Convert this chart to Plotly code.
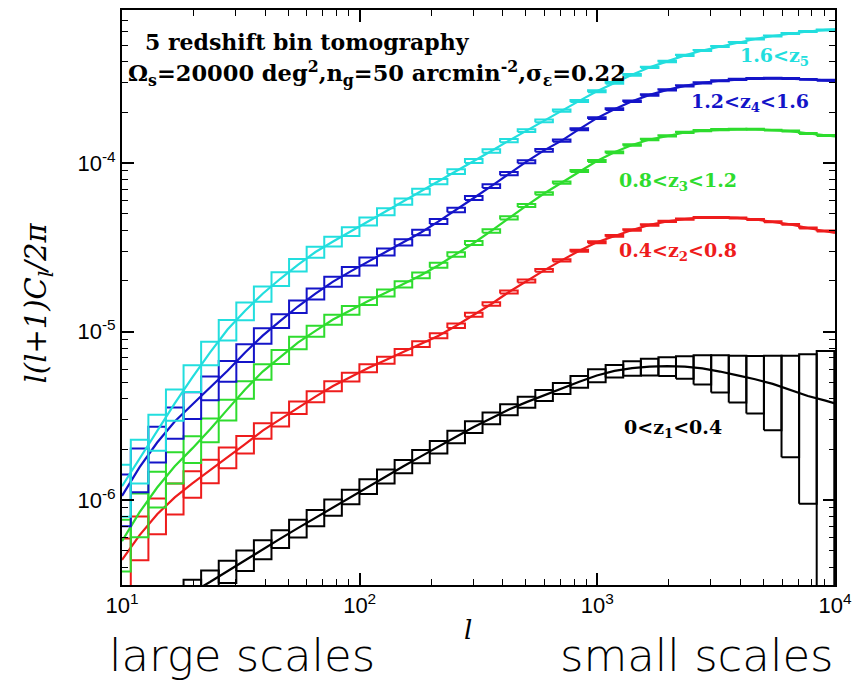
import plotly.graph_objects as go

# bin centres (multipole l)
ell = [10, 11.86, 14.06, 16.67, 19.77, 23.44, 27.80, 32.96, 39.08, 46.35, 54.95,
       65.16, 77.27, 91.62, 108.6, 128.8, 152.8, 181.1, 214.8, 254.7, 302.0,
       358.1, 424.6, 503.5, 597.0, 707.9, 839.5, 995.4, 1180, 1400, 1660,
       1968, 2333, 2767, 3281, 3890, 4613, 5470, 6486, 7691, 9120]
ell_line = ell + [10000]

# l(l+1)C_l/2pi for each tomographic bin (41 bins + end point at l=1e4)
z5_cyan = [1.21e-6, 1.77e-6, 2.59e-6, 3.75e-6, 5.35e-6, 7.52e-6, 1.03e-5, 1.33e-5, 1.68e-5, 2.06e-5,
           2.49e-5, 2.97e-5, 3.43e-5, 3.93e-5, 4.51e-5, 5.16e-5, 5.92e-5, 6.78e-5, 7.77e-5, 8.91e-5,
           1.03e-4, 1.18e-4, 1.36e-4, 1.56e-4, 1.78e-4, 2.05e-4, 2.34e-4, 2.67e-4, 2.99e-4, 3.34e-4,
           3.70e-4, 4.01e-4, 4.36e-4, 4.66e-4, 4.92e-4, 5.20e-4, 5.45e-4, 5.68e-4, 5.88e-4, 6.04e-4,
           6.17e-4, 6.21e-4]
z4_blue = [1.06e-6, 1.57e-6, 2.20e-6, 2.93e-6, 3.70e-6, 4.67e-6, 5.87e-6, 7.52e-6, 9.47e-6, 1.16e-5,
           1.41e-5, 1.68e-5, 1.98e-5, 2.28e-5, 2.61e-5, 2.97e-5, 3.39e-5, 3.88e-5, 4.51e-5, 5.27e-5,
           6.21e-5, 7.31e-5, 8.67e-5, 1.02e-4, 1.19e-4, 1.36e-4, 1.59e-4, 1.85e-4, 2.09e-4, 2.33e-4,
           2.54e-4, 2.72e-4, 2.87e-4, 2.99e-4, 3.08e-4, 3.14e-4, 3.18e-4, 3.19e-4, 3.18e-4, 3.14e-4,
           3.10e-4, 3.06e-4]
z3_green = [5.72e-7, 8.49e-7, 1.19e-6, 1.59e-6, 2.03e-6, 2.63e-6, 3.46e-6, 4.54e-6, 5.80e-6, 7.11e-6,
            8.61e-6, 1.01e-5, 1.18e-5, 1.34e-5, 1.52e-5, 1.70e-5, 1.91e-5, 2.16e-5, 2.48e-5, 2.87e-5,
            3.36e-5, 3.96e-5, 4.73e-5, 5.60e-5, 6.60e-5, 7.67e-5, 8.97e-5, 1.03e-4, 1.16e-4, 1.28e-4,
            1.38e-4, 1.45e-4, 1.52e-4, 1.56e-4, 1.58e-4, 1.59e-4, 1.59e-4, 1.57e-4, 1.55e-4, 1.50e-4,
            1.46e-4, 1.44e-4]
z2_red = [4.42e-7, 6.21e-7, 8.26e-7, 1.04e-6, 1.26e-6, 1.50e-6, 1.80e-6, 2.15e-6, 2.59e-6, 3.02e-6,
          3.55e-6, 4.12e-6, 4.76e-6, 5.38e-6, 6.08e-6, 6.78e-6, 7.56e-6, 8.43e-6, 9.47e-6, 1.085e-5,
          1.26e-5, 1.46e-5, 1.72e-5, 2.00e-5, 2.31e-5, 2.65e-5, 3.02e-5, 3.39e-5, 3.70e-5, 4.01e-5,
          4.30e-5, 4.51e-5, 4.66e-5, 4.76e-5, 4.76e-5, 4.73e-5, 4.63e-5, 4.49e-5, 4.33e-5, 4.12e-5,
          3.96e-5, 3.85e-5]
z1_black = [1.51e-7, 1.75e-7, 2.06e-7, 2.43e-7, 2.84e-7, 3.27e-7, 3.80e-7, 4.42e-7, 5.13e-7, 5.92e-7,
            6.83e-7, 7.87e-7, 9.09e-7, 1.05e-6, 1.21e-6, 1.39e-6, 1.59e-6, 1.82e-6, 2.07e-6, 2.38e-6,
            2.72e-6, 3.07e-6, 3.45e-6, 3.82e-6, 4.20e-6, 4.62e-6, 5.05e-6, 5.50e-6, 5.85e-6, 6.08e-6,
            6.20e-6, 6.25e-6, 6.20e-6, 6.05e-6, 5.80e-6, 5.50e-6, 5.22e-6, 4.90e-6, 4.50e-6, 4.15e-6,
            3.90e-6, 3.75e-6]

# fractional 1-sigma errors per bin (half box height / value)
relerr_colored = [0.34, 0.29, 0.24, 0.21, 0.18, 0.16, 0.14, 0.12, 0.105, 0.095,
                  0.085, 0.075, 0.068, 0.06, 0.054, 0.048, 0.043, 0.039, 0.035, 0.031,
                  0.028, 0.025, 0.022, 0.02, 0.018, 0.016, 0.014, 0.013, 0.012, 0.011,
                  0.010, 0.009, 0.0085, 0.008, 0.0075, 0.007, 0.0068, 0.0066, 0.0065, 0.0064,
                  0.0064]
relerr_black = [0.34, 0.29, 0.25, 0.21, 0.19, 0.17, 0.15, 0.14, 0.13, 0.12,
                0.12, 0.11, 0.11, 0.10, 0.10, 0.095, 0.09, 0.09, 0.085, 0.085,
                0.08, 0.08, 0.075, 0.075, 0.075, 0.075, 0.08, 0.09, 0.085, 0.098,
                0.113, 0.128, 0.153, 0.198, 0.25, 0.31, 0.374, 0.47, 0.60, 0.77,
                0.97]

labels = ["1.6&lt;z<sub>5</sub>", "1.2&lt;z<sub>4</sub>&lt;1.6", "0.8&lt;z<sub>3</sub>&lt;1.2",
          "0.4&lt;z<sub>2</sub>&lt;0.8", "0&lt;z<sub>1</sub>&lt;0.4"]
x_ticks = [10, 100, 1000, 10000]
x_ticktext = ["10<sup>1</sup>", "10<sup>2</sup>", "10<sup>3</sup>", "10<sup>4</sup>"]
y_ticks = [1e-6, 1e-5, 1e-4]
y_ticktext = ["10<sup>-6</sup>", "10<sup>-5</sup>", "10<sup>-4</sup>"]

HW = 0.037  # half bin width in dex

series = [
    (z1_black, relerr_black, "black"),
    (z2_red, relerr_colored, "#ee1c1c"),
    (z3_green, relerr_colored, "#2edc2e"),
    (z4_blue, relerr_colored, "#1414c8"),
    (z5_cyan, relerr_colored, "#22dede"),
]

fig = go.Figure()
for vals, rel, col in series:
    xs, ys = [], []
    for l, c, r in zip(ell, vals, rel):
        x0, x1 = l * 10 ** (-HW), l * 10 ** HW
        lo = max(c * (1 - r), 1e-9)
        hi = c * (1 + r)
        xs += [x0, x1, x1, x0, x0, None]
        ys += [lo, lo, hi, hi, lo, None]
    fig.add_trace(go.Scatter(x=xs, y=ys, mode="lines", line=dict(color=col, width=2),
                             hoverinfo="skip", showlegend=False))
    fig.add_trace(go.Scatter(x=ell_line, y=vals, mode="lines", line=dict(color=col, width=2.2),
                             showlegend=False))

# plot area pixels: x 122..839, y 8..585
def px(x):
    return (x - 122) / 717.0

def py(y):
    return (585 - y) / 577.0

ann = []
serif = "DejaVu Serif"
ann.append(dict(text="<b>5 redshift bin tomography</b>", x=px(143), y=py(40), xanchor="left",
                yanchor="middle", font=dict(family=serif, size=22, color="black")))
ann.append(dict(text="<b>Ω<sub>s</sub>=20000 deg<sup>2</sup>,n<sub>g</sub>=50 arcmin<sup>-2</sup>,σ<sub>ε</sub>=0.22</b>",
                x=px(126), y=py(72), xanchor="left", yanchor="middle",
                font=dict(family=serif, size=22.5, color="black")))
lab_pos = [(815, 55, "right", "#22dede"), (815, 101, "right", "#1414c8"),
           (620, 180, "left", "#2edc2e"), (620, 250, "left", "#ee1c1c"),
           (625, 428, "left", "black")]
for t, (x, y, anc, col) in zip(labels, lab_pos):
    ann.append(dict(text="<b>" + t + "</b>", x=px(x), y=py(y), xanchor=anc, yanchor="middle",
                    font=dict(family=serif, size=19, color=col)))
ann.append(dict(text="<i>l</i>", x=px(470), y=py(630), xanchor="center", yanchor="middle",
                font=dict(family=serif, size=26, color="black")))
ann.append(dict(text="<i>l(l+1)C<sub>l</sub>/2π</i>", x=px(38), y=py(302), xanchor="center",
                yanchor="middle", textangle=-90, font=dict(family=serif, size=29, color="black")))
ann.append(dict(text="large scales", x=px(243), y=py(656), xanchor="center", yanchor="middle",
                font=dict(family="DejaVu Sans", size=45, weight=200, color="black")))
ann.append(dict(text="small scales", x=px(700), y=py(656), xanchor="center", yanchor="middle",
                font=dict(family="DejaVu Sans", size=45, weight=200, color="black")))
for a in ann:
    a.update(xref="paper", yref="paper", showarrow=False)

xminor = [m * 10 ** e for e in range(1, 4) for m in range(2, 10)]
yminor = [m * 10 ** e for e in range(-7, -3) for m in range(2, 10)]

tickfont = dict(family="Liberation Sans", size=22, color="black")
axis_common = dict(type="log", showgrid=False, zeroline=False, showline=True, linecolor="black",
                   linewidth=2, ticks="inside", ticklen=12, tickwidth=1.5, tickcolor="black",
                   mirror="allticks")

fig.update_layout(
    width=860, height=684, margin=dict(l=122, r=21, t=8, b=99),
    paper_bgcolor="white", plot_bgcolor="white", annotations=ann,
    xaxis=dict(range=[1, 4], tickmode="array", tickvals=x_ticks, ticktext=x_ticktext,
               tickfont=tickfont,
               minor=dict(tickvals=xminor, ticks="inside", ticklen=6, tickcolor="black", tickwidth=1.2),
               **axis_common),
    yaxis=dict(range=[-6.503, -3.0915], tickmode="array", tickvals=y_ticks, ticktext=y_ticktext,
               tickfont=tickfont,
               minor=dict(tickvals=yminor, ticks="inside", ticklen=6, tickcolor="black", tickwidth=1.2),
               **axis_common),
)

fig.write_html("out.html")
